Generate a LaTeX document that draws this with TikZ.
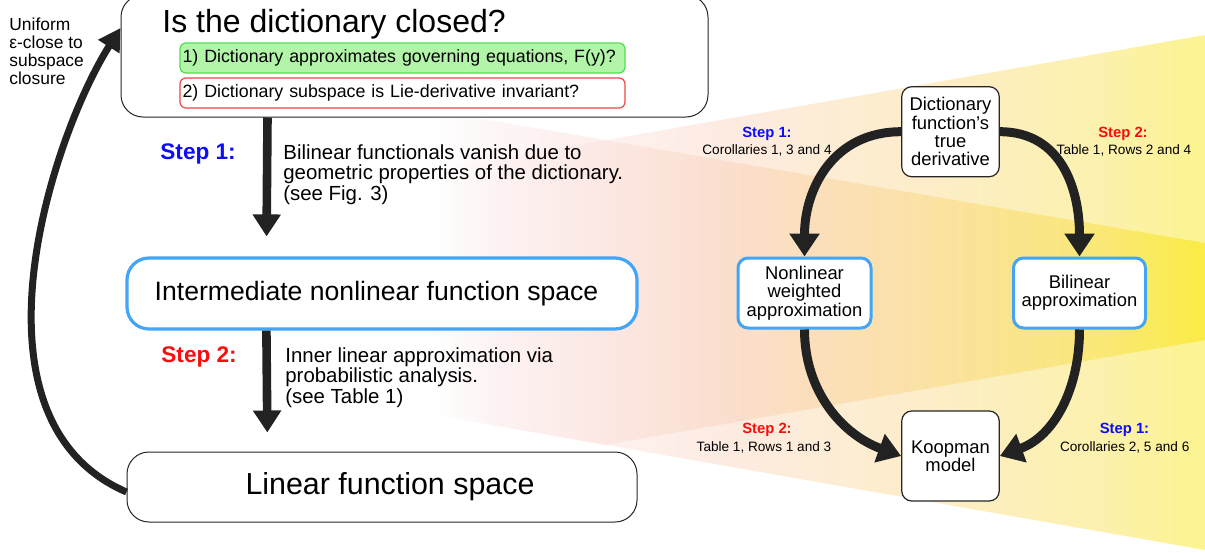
\documentclass[tikz,border=0pt]{standalone}
\usepackage{fontspec}
\setmainfont{Liberation Sans}
\usetikzlibrary{arrows.meta}
\definecolor{skyblue}{RGB}{66,165,245}
\definecolor{stepblue}{RGB}{12,12,245}
\definecolor{stepred}{RGB}{250,12,12}
\definecolor{arrowgray}{RGB}{34,34,34}
\definecolor{okfill}{RGB}{178,245,168}
\definecolor{okline}{RGB}{80,222,80}
\definecolor{noline}{RGB}{240,70,70}
\definecolor{fanA}{RGB}{252,238,238}
\definecolor{fanB}{RGB}{251,224,219}
\definecolor{fanC}{RGB}{250,211,188}
\definecolor{fanD}{RGB}{250,215,142}
\definecolor{fanE}{RGB}{248,224,75}
\definecolor{fanF}{RGB}{248,230,8}
\pgfdeclarehorizontalshading{fan}{100bp}{color(0bp)=(white); color(25bp)=(white); color(29.5bp)=(fanA); color(36bp)=(fanB); color(44.4bp)=(fanC); color(55.3bp)=(fanD); color(68.2bp)=(fanE); color(75bp)=(fanF); color(100bp)=(fanF)}

\begin{document}
\begin{tikzpicture}[x=0.5pt,y=0.5pt,line join=round,
	bigbox/.style={draw=black!85,line width=0.5pt,fill=white,rounded corners=11pt,inner sep=0pt},
	bluebox/.style={bigbox,draw=skyblue,line width=1.6pt},
	smallbox/.style={draw=black!85,line width=0.6pt,fill=white,rounded corners=5pt,inner sep=0pt,align=center,font=\fontsize{9.2}{9.2}\selectfont},
	smallblue/.style={smallbox,draw=skyblue,line width=1.5pt},
	question/.style={line width=0.6pt,fill=white,rounded corners=3pt,inner xsep=1.25pt,inner ysep=0pt,text width=220pt,minimum height=15pt,align=left,font=\fontsize{8.9}{8.9}\selectfont},
	tag/.style={inner sep=0pt,font=\bfseries\fontsize{11.3}{11.3}\selectfont},
	smalltag/.style={inner sep=0pt,anchor=base,font=\bfseries\fontsize{7.4}{7.4}\selectfont},
	caption/.style={inner sep=0pt,anchor=base,font=\fontsize{6.8}{6.8}\selectfont},
	bodytext/.style={inner sep=0pt,anchor=base west,align=left,font=\fontsize{10.2}{10.2}\selectfont},
	flow/.style={draw=arrowgray,line width=4.3pt,-{Triangle[length=11pt,width=13.5pt]}},
	bendflow/.style={draw=arrowgray,line width=4.5pt,-{Triangle[length=11.5pt,width=14.5pt]}},
	loopback/.style={draw=arrowgray,line width=3.5pt,-{Triangle[length=11pt,width=12pt]}}]
	\useasboundingbox (0,0) rectangle (1205,-552);

	\shade[shading=fan,fill opacity=0.45] (430,-171)--(1205,-35)--(1205,-550)--(430,-414)--cycle;
	\shade[shading=fan,fill opacity=0.55] (430,-110)--(1205,-243)--(1205,-340)--(605,-445)--(430,-414)--cycle;

	\node[bigbox,minimum width=293.5pt,minimum height=61pt] (closed) at (414.5,-56) {};
	\node[inner sep=0pt,anchor=base west,font=\fontsize{16}{16}\selectfont] (title) at (162,-32) {Is the dictionary closed?};
	\node[question,draw=okline,fill=okfill] (q1) at (402.5,-58) {1) Dictionary approximates governing equations, F(y)?};
	\node[question,draw=noline] (q2) at (402.5,-93) {2) Dictionary subspace is Lie-derivative invariant?};

	\node[bluebox,minimum width=255pt,minimum height=35.5pt,font=\fontsize{13.3}{13.3}\selectfont] (mid) at (382,-293.5) {Intermediate nonlinear function space\hspace*{5.5pt}};
	\node[bigbox,minimum width=255pt,minimum height=35pt,font=\fontsize{15.2}{15.2}\selectfont] (lin) at (382,-487) {\hspace*{8pt}Linear function space};

	\node[inner sep=0pt,anchor=base west,align=left,font=\fontsize{8.7}{9}\selectfont] (uniform) at (9,-84) {Uniform\\ε-close to\\subspace\\closure};

	\node[tag,text=stepblue,anchor=base west] (stepA) at (160,-159) {Step 1:};
	\node[bodytext] (whyA) at (283,-200) {Bilinear functionals vanish due to\\geometric properties of the dictionary.\\(see Fig. 3)};
	\node[tag,text=stepred,anchor=base west] (stepB) at (161,-362) {Step 2:};
	\node[bodytext] (whyB) at (285,-403) {Inner linear approximation via\\probabilistic analysis.\\(see Table 1)};

	\draw[flow,shorten >=10pt] ([xshift=73.5pt]closed.south west) -- ([xshift=70.5pt]mid.north west);
	\draw[flow,shorten >=9.5pt] ([xshift=70.5pt]mid.south west) -- ([xshift=70.5pt]lin.north west);
	\draw[loopback] ([yshift=-2.5pt]lin.west) .. controls (-40,-420) and (50,-140) .. ([yshift=14pt]closed.west);

	\node[smallbox,minimum width=48.75pt,minimum height=45pt] (dict) at (950.5,-131.7) {Dictionary\\function’s\\true\\derivative};
	\node[smallblue,minimum width=66.5pt,minimum height=35pt] (nonlin) at (804.5,-293) {Nonlinear\\weighted\\approximation};
	\node[smallblue,minimum width=66pt,minimum height=35pt] (bilin) at (1079.5,-293) {Bilinear\\approximation};
	\node[smallbox,minimum width=48.75pt,minimum height=45pt] (koop) at (950.5,-456) {Koopman\\model};

	\draw[bendflow] (dict.west) to[out=180,in=90,looseness=1.1] (nonlin.north);
	\draw[bendflow] (dict.east) to[out=0,in=90,looseness=1.1] (bilin.north);
	\draw[bendflow] (nonlin.south) to[out=-90,in=160] (koop.west);
	\draw[bendflow] (bilin.south) to[out=-90,in=20] (koop.east);

	\node[smalltag,text=stepblue] (tagA) at (767,-137) {Step 1:};
	\node[caption] (capA) at (767,-154) {Corollaries 1, 3 and 4};
	\node[smalltag,text=stepred] (tagB) at (1123,-137) {Step 2:};
	\node[caption] (capB) at (1124,-154) {Table 1, Rows 2 and 4};
	\node[smalltag,text=stepred] (tagC) at (767,-433.6) {Step 2:};
	\node[caption] (capC) at (764,-451.7) {Table 1, Rows 1 and 3};
	\node[smalltag,text=stepblue] (tagD) at (1124.5,-433.6) {Step 1:};
	\node[caption] (capD) at (1124.7,-451.7) {Corollaries 2, 5 and 6};
\end{tikzpicture}
\end{document}
